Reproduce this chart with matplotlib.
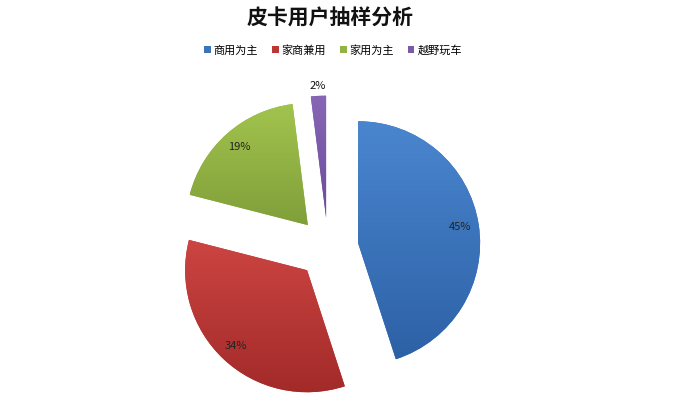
import matplotlib
matplotlib.use('Agg')
import matplotlib.pyplot as plt
import numpy as np
from matplotlib.colors import LinearSegmentedColormap

plt.rcParams['font.family'] = ['Noto Sans CJK SC', 'DejaVu Sans']

# data
title = '皮卡用户抽样分析'
labels = ['商用为主', '家商兼用', '家用为主', '越野玩车']
shares = [45, 34, 19, 2]

# excel-ish gradient colors (top -> bottom)
base_colors = ['#3b73bd', '#bb3735', '#91b345', '#7a5aa8']
top_colors = ['#4a86cf', '#cc4542', '#a2c44e', '#8866b5']
bottom_colors = ['#2d61a6', '#a22a29', '#809f3a', '#6a4c9a']

fig = plt.figure(figsize=(6.8, 4.2), dpi=100)
ax = fig.add_axes([145 / 680, 1 / 420, 366 / 680, 342 / 420])

wedges, texts, autotexts = ax.pie(
    shares, colors=base_colors, startangle=90, counterclock=False,
    explode=[0.25] * len(shares), autopct='%d%%', pctdistance=0.85,
    textprops=dict(fontsize=8, color='#222222'))

# vertical gradient inside each slice
grad = np.linspace(0, 1, 256).reshape(-1, 1)
for w, c_top, c_bot in zip(wedges, top_colors, bottom_colors):
    verts = w.get_path().vertices
    x0, x1 = verts[:, 0].min(), verts[:, 0].max()
    y0, y1 = verts[:, 1].min(), verts[:, 1].max()
    cmap = LinearSegmentedColormap.from_list('g', [c_top, c_bot])
    ax.imshow(grad, extent=(x0, x1, y0, y1), origin='upper', cmap=cmap,
              aspect='auto', clip_path=w, zorder=w.get_zorder() + 0.1)

# the small slice gets its label outside
w = wedges[-1]
mid = np.deg2rad((w.theta1 + w.theta2) / 2)
cx, cy = w.center
autotexts[-1].set_position((cx + 1.08 * np.cos(mid), cy + 1.08 * np.sin(mid)))
autotexts[-1].set_color('#111111')

ax.set_xlim(-1.5, 1.5)
ax.set_ylim(-1.4, 1.4)
ax.set_aspect('equal')
ax.axis('off')

fig.text(330 / 680, 1 - 18 / 420, title, ha='center', va='center',
         fontsize=15, fontweight='bold', color='#111111')

fig.legend(wedges, labels, loc='center', bbox_to_anchor=(333 / 680, 1 - 50 / 420),
           ncol=4, frameon=False, fontsize=8, handlelength=0.6, handleheight=0.6,
           handletextpad=0.25, columnspacing=1.25)

fig.savefig('out.png', dpi=100)
